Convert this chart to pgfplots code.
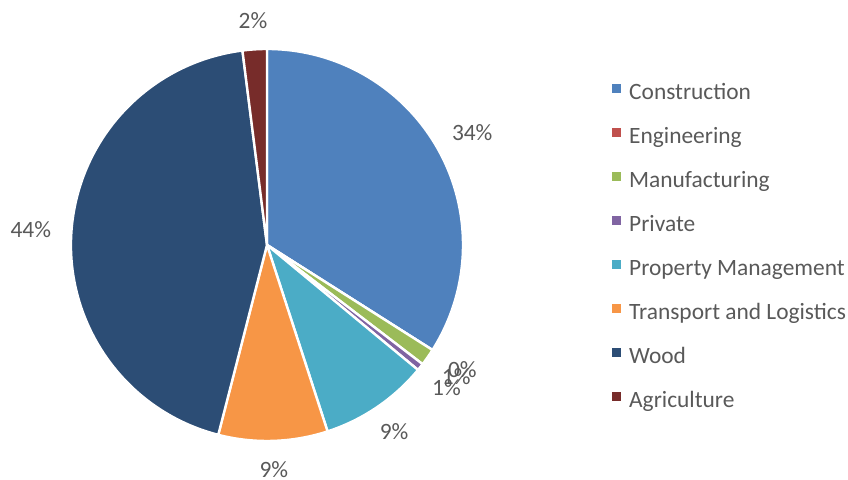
\documentclass[border=0pt]{standalone}
\usepackage{pgfplots}
\pgfplotsset{compat=1.18}
\usepackage{pgfplotstable}
\usepackage{fontspec}
\setmainfont{Carlito}

\definecolor{cConstruction}{HTML}{4F81BD}
\definecolor{cEngineering}{HTML}{C0504D}
\definecolor{cManufacturing}{HTML}{9BBB59}
\definecolor{cPrivate}{HTML}{8064A2}
\definecolor{cProperty}{HTML}{4BACC6}
\definecolor{cTransport}{HTML}{F79646}
\definecolor{cWood}{HTML}{2C4D75}
\definecolor{cAgriculture}{HTML}{772C2A}
\definecolor{labelgray}{HTML}{595959}

% share of each sector in percent, clockwise from 12 o'clock
\pgfplotstableread[col sep=comma]{
label,value,color
Construction,34,cConstruction
Engineering,0,cEngineering
Manufacturing,1.4,cManufacturing
Private,0.6,cPrivate
Property Management,9,cProperty
Transport and Logistics,9,cTransport
Wood,44,cWood
Agriculture,2,cAgriculture
}\piedata

\tikzset{pielabel/.style={inner sep=0pt, text=labelgray, font=\fontsize{11.7}{13}\selectfont}}

\begin{document}
\begin{tikzpicture}
\begin{axis}[
    scale only axis,
    width=424pt, height=240pt,
    xmin=0, xmax=848, ymin=-480, ymax=0,
    hide axis, clip=false,
    legend cell align=left,
    legend image code/.code={\fill[#1] (0pt,0.6pt) rectangle (4pt,4.6pt);},
    legend style={draw=none, fill=none, inner sep=0pt,
        at={(axis cs:612,-248)}, anchor=west,
        row sep=11.3pt, column sep=4pt,
        font=\fontsize{11.7}{13}\selectfont, text=labelgray,
        nodes={inner sep=0pt, text height=8.2pt, text depth=2.5pt}},
]
\draw[draw=none] (axis cs:0,0) rectangle (axis cs:848,-480);
\pgfplotstablegetrowsof{\piedata}
\pgfmathtruncatemacro\nlast{\pgfplotsretval-1}
\gdef\cum{0}
\pgfplotsforeachungrouped \i in {0,...,\nlast}{%
    \pgfplotstablegetelem{\i}{value}\of\piedata \let\v\pgfplotsretval
    \pgfplotstablegetelem{\i}{color}\of\piedata \let\c\pgfplotsretval
    \pgfplotstablegetelem{\i}{label}\of\piedata \let\l\pgfplotsretval
    \pgfmathsetmacro\aa{90-3.6*\cum}
    \pgfmathsetmacro\bb{90-3.6*(\cum+\v)}
    \pgfmathsetmacro\mm{(\aa+\bb)/2}
    \pgfmathsetmacro\an{mod(\mm+540,360)}
    \pgfmathtruncatemacro\lab{round(\v)}
    \edef\temp{%
        \noexpand\fill[\c, draw=white, line width=1.2pt, line join=round]
            (axis cs:267,-245) -- ++(\aa:98pt)
            arc[start angle=\aa, end angle=\bb, radius=98pt] -- cycle;
        \noexpand\path (axis cs:267,-245) ++(\mm:108pt)
            node[pielabel, anchor=\an] {\lab\noexpand\%};
        \noexpand\addlegendimage{\c}
        \noexpand\addlegendentry{\l}
    }\temp
    \pgfmathsetmacro\cumnew{\cum+\v}
    \xdef\cum{\cumnew}
}
\end{axis}
\end{tikzpicture}
\end{document}
